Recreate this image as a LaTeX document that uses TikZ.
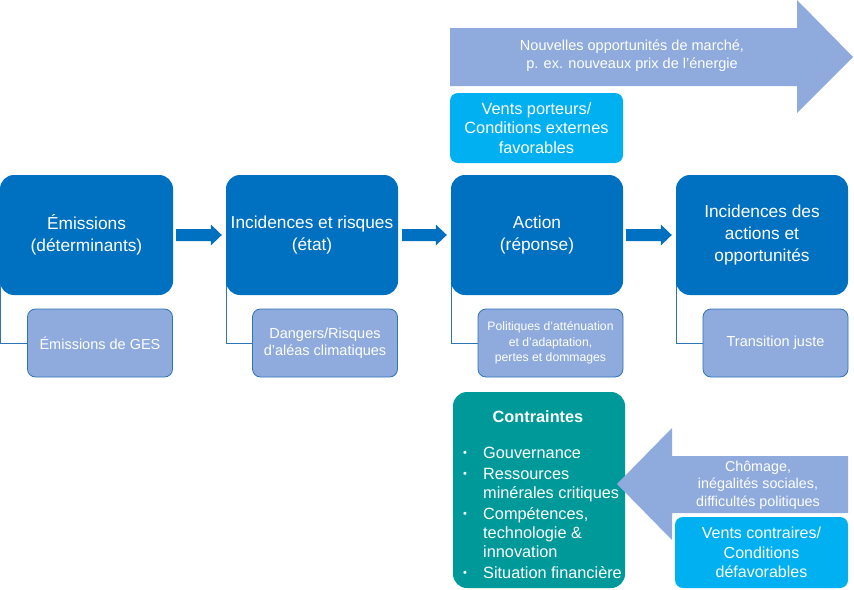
\documentclass[tikz,border=0pt]{standalone}
\usepackage{fontspec}
\setmainfont{Liberation Sans}
\usetikzlibrary{calc,backgrounds}
\definecolor{mainblue}{HTML}{0070C0}
\definecolor{lightblue}{HTML}{8FAADC}
\definecolor{cyanfill}{HTML}{00B0F0}
\definecolor{tealfill}{HTML}{009999}
\definecolor{edgeblue}{HTML}{2E75B6}
\newcommand\flowarrowpath[2]{%
  \fill[mainblue] ($(#1)+(0,-6)$) -- ($(#2)+(-11,-6)$) -- ($(#2)+(-11,-10.5)$) -- (#2)
    -- ($(#2)+(-11,10.5)$) -- ($(#2)+(-11,6)$) -- ($(#1)+(0,6)$) -- cycle;}
\begin{document}
\begin{tikzpicture}[x=1pt,y=-1pt,
  mainbox/.style={fill=mainblue, rounded corners=14pt, minimum width=172pt, minimum height=120pt,
    text=white, align=center, inner sep=0pt, font=\fontsize{17.3}{22}\selectfont},
  subbox/.style={fill=lightblue, draw=edgeblue, line width=0.8pt, rounded corners=8pt,
    minimum width=145pt, minimum height=68pt, text=white, align=center, inner sep=0pt,
    font=\fontsize{14.5}{17}\selectfont},
  cyanbox/.style={fill=cyanfill, rounded corners=8pt, minimum width=173pt, text=white,
    align=center, inner sep=0pt},
  conn/.style={draw=edgeblue, line width=1pt},
  wtext/.style={text=white, align=center, inner sep=0pt}
]
\useasboundingbox (0,0) rectangle (854,589);

% main boxes
\node[mainbox, minimum width=173pt] (m1) at (86.5,235) {Émissions\\(déterminants)};
\node[mainbox] (m2) at (312,235) {Incidences et risques\\(état)};
\node[mainbox] (m3) at (537,235) {Action\\(réponse)};
\node[mainbox] (m4) at (762,235) {Incidences des\\actions et\\opportunités};

% sub boxes
\node[subbox] (s1) at (100,343) {Émissions de GES};
\node[subbox] (s2) at (325,343) {Dangers/Risques\\d’aléas climatiques};
\node[subbox, font=\fontsize{12.2}{15.5}\selectfont] (s3) at (550.5,343) {Politiques d’atténuation\\et d’adaptation,\\pertes et dommages};
\node[subbox] (s4) at (775.5,343) {Transition juste};

\begin{scope}[on background layer]
  \draw[conn] ([xshift=0.6pt,yshift=14pt]m1.south west) |- (s1.west);
  \draw[conn] ([xshift=0.6pt,yshift=14pt]m2.south west) |- (s2.west);
  \draw[conn] ([xshift=0.6pt,yshift=14pt]m3.south west) |- (s3.west);
  \draw[conn] ([xshift=0.6pt,yshift=14pt]m4.south west) |- (s4.west);
\end{scope}

% block arrows between main boxes
\coordinate (a1s) at ($(m1.east)+(3,0)$); \coordinate (a1t) at ($(m2.west)+(-4,0)$);
\coordinate (a2s) at ($(m2.east)+(4,0)$); \coordinate (a2t) at ($(m3.west)+(-4,0)$);
\coordinate (a3s) at ($(m3.east)+(3,0)$); \coordinate (a3t) at ($(m4.west)+(-4,0)$);
\flowarrowpath{a1s}{a1t}
\flowarrowpath{a2s}{a2t}
\flowarrowpath{a3s}{a3t}

% top arrow
\fill[lightblue] (450,28) -- (797,28) -- (797,0) -- (853,57) -- (797,113) -- (797,86) -- (450,86) -- cycle;
\node[wtext, font=\fontsize{14.5}{18}\selectfont] (topt) at (632,56) {Nouvelles opportunités de marché,\\p. ex. nouveaux prix de l’énergie};

\node[cyanbox, minimum height=70pt, font=\fontsize{16.3}{19.5}\selectfont] (vp) at (536.5,128) {Vents porteurs/\\Conditions externes\\favorables};

% contraintes
\node[fill=tealfill, rounded corners=14pt, minimum width=172pt, minimum height=196pt, inner sep=0pt] (ct) at (539,490) {};
\fill[lightblue] (617,484) -- (672,428) -- (672,456) -- (848,456) -- (848,513) -- (672,513) -- (672,540) -- cycle;
\node[wtext, font=\fontsize{14.3}{17.5}\selectfont] (cht) at (758,485) {Chômage,\\inégalités sociales,\\difficultés politiques};
\node[cyanbox, minimum height=71pt, font=\fontsize{16}{19.5}\selectfont] (vc) at (761.5,552.5) {Vents contraires/\\Conditions\\défavorables};

\node[wtext, font=\bfseries\fontsize{16.3}{20}\selectfont] (ctt) at (538,417) {Contraintes};
\node[text=white, inner sep=0pt, anchor=base west] (ctl) at (463,458) {\fontsize{16.3}{18.8}\selectfont
\begin{tabular}[t]{@{}p{20pt}@{}l@{}}
\raisebox{1.5pt}{\fontsize{11}{11}\selectfont •} & Gouvernance\\[2.5pt]
\raisebox{1.5pt}{\fontsize{11}{11}\selectfont •} & Ressources\\
 & minérales critiques\\[2.5pt]
\raisebox{1.5pt}{\fontsize{11}{11}\selectfont •} & Compétences,\\
 & technologie \&\\
 & innovation\\[2.5pt]
\raisebox{1.5pt}{\fontsize{11}{11}\selectfont •} & Situation financière
\end{tabular}};
\end{tikzpicture}
\end{document}
